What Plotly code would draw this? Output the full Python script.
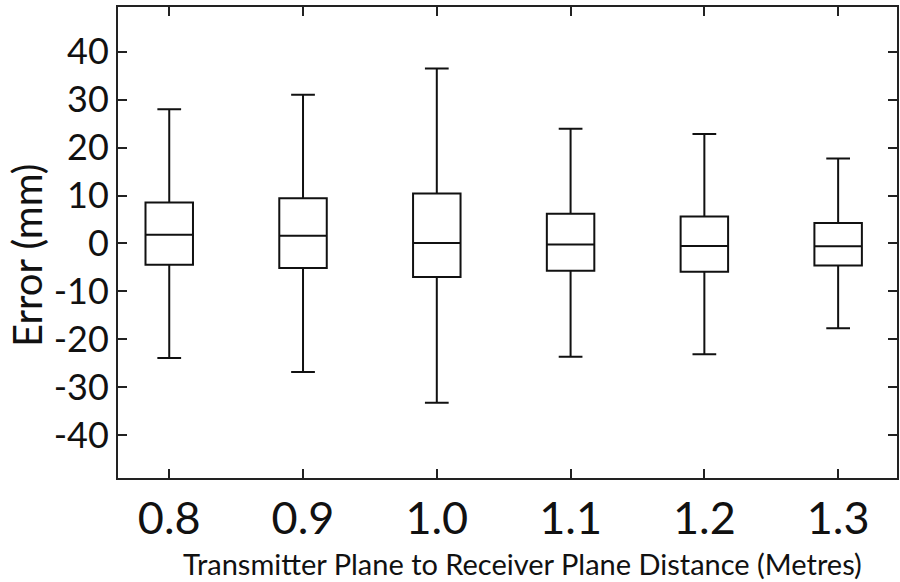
import plotly.graph_objects as go

categories = ["0.8", "0.9", "1.0", "1.1", "1.2", "1.3"]
lower_whisker = [-23.9, -26.8, -33.2, -23.6, -23.1, -17.7]
q1_values = [-4.45, -5.1, -7.0, -5.7, -5.9, -4.6]
median_values = [1.8, 1.6, 0.1, -0.2, -0.55, -0.6]
q3_values = [8.56, 9.4, 10.4, 6.2, 5.6, 4.25]
upper_whisker = [28.0, 31.0, 36.5, 23.9, 22.8, 17.7]

y_tick_vals = [-40, -30, -20, -10, 0, 10, 20, 30, 40]
y_tick_text = [str(v) for v in y_tick_vals]

x_title = "Transmitter Plane to Receiver Plane Distance (Metres)"
y_title = "Error (mm)"

FONT = "Lato, Carlito, Calibri, sans-serif"

fig = go.Figure()
fig.add_trace(go.Box(
    x=categories,
    q1=q1_values,
    median=median_values,
    q3=q3_values,
    lowerfence=lower_whisker,
    upperfence=upper_whisker,
    line=dict(color="#111111", width=2),
    fillcolor="rgba(255,255,255,0)",
    whiskerwidth=0.5,
    boxpoints=False,
    showlegend=False,
    hoverinfo="skip",
))

fig.update_layout(
    width=900, height=582,
    margin=dict(l=118, r=1, t=7, b=104),
    paper_bgcolor="white",
    plot_bgcolor="white",
    boxgap=0.493,
    font=dict(family=FONT, color="#111111"),
    annotations=[
        dict(text=x_title, xref="paper", yref="paper", x=0.519, y=-0.181,
             xanchor="center", yanchor="middle", showarrow=False,
             font=dict(family=FONT, size=29, color="#111111")),
        dict(text=y_title, xref="paper", yref="paper", x=-0.117, y=0.473,
             xanchor="center", yanchor="middle", showarrow=False, textangle=-90,
             font=dict(family=FONT, size=40, color="#111111")),
    ],
)

fig.update_xaxes(
    type="category",
    range=[-0.383, 5.44],
    showgrid=False, zeroline=False,
    showline=True, linecolor="#222222", linewidth=2, mirror="ticks",
    ticks="inside", ticklen=9, tickwidth=2, tickcolor="#222222",
    tickfont=dict(family=FONT, size=45, color="#111111"),
    ticklabelstandoff=0,
)

fig.update_yaxes(
    range=[-48.9, 49.3],
    tickvals=y_tick_vals, ticktext=y_tick_text,
    showgrid=False, zeroline=False,
    showline=True, linecolor="#222222", linewidth=2, mirror="ticks",
    ticks="inside", ticklen=9, tickwidth=2, tickcolor="#222222",
    tickfont=dict(family=FONT, size=36, color="#111111"),
)

fig.write_html("out.html")
